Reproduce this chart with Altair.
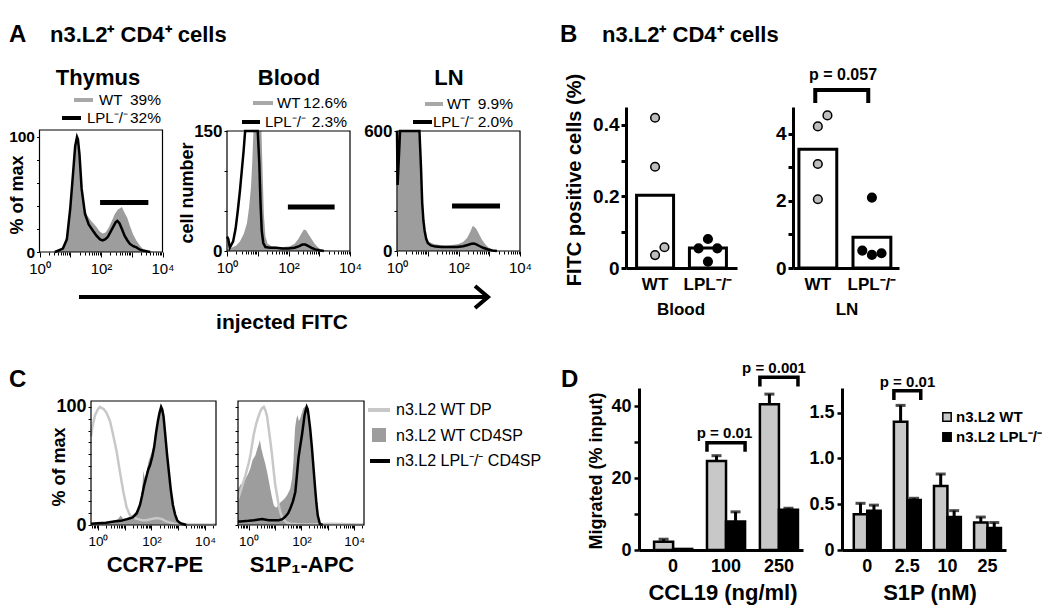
import altair as alt
import numpy as np
import pandas as pd

FONT = "Liberation Sans"
W, H = 1034, 598
FILL = "#9d9d9d"
LIGHT = "#c8c8c8"
LEGGRAY = "#a8a8a8"
WTBAR = "#c8c8c8"
WTPT = "#bdbdbd"

# ---------------- Panel A: FITC histograms (x = log10 intensity, decades) ----------------
thy_wt_d = [0.55, 0.7, 0.8, 0.9, 0.98, 1.05, 1.12, 1.18, 1.22, 1.27, 1.32, 1.38, 1.45, 1.55, 1.65, 1.75, 1.85, 1.95, 2.05, 2.15, 2.25, 2.35, 2.45, 2.55, 2.62, 2.68, 2.75, 2.85, 2.95, 3.05, 3.15, 3.25, 3.35, 3.5, 3.7]
thy_wt_v = [0, 2, 6, 16, 35, 62, 86, 97, 100, 93, 72, 52, 40, 32, 28, 25, 22, 18, 16, 17, 21, 27, 33, 37, 38, 39, 35, 30, 22, 15, 10, 6, 3, 1, 0]
thy_ko_d = [0.5, 0.76, 0.89, 1.0, 1.09, 1.16, 1.22, 1.25, 1.3, 1.37, 1.48, 1.6, 1.75, 1.86, 1.97, 2.05, 2.13, 2.22, 2.3, 2.4, 2.48, 2.53, 2.6, 2.68, 2.77, 2.86, 2.94, 3.05, 3.15, 3.27, 3.4, 3.6]
thy_ko_v = [0, 3, 11, 38, 68, 92, 100, 98, 85, 55, 33, 24, 18, 14, 11, 10, 11, 13, 17, 22, 26, 27, 25, 20, 14, 10, 7, 5, 4, 2, 1, 0]

bld_wt_d = [0.0, 0.15, 0.3, 0.42, 0.55, 0.65, 0.72, 0.78, 0.82, 0.86, 1.12, 1.16, 1.2, 1.25, 1.32, 1.45, 1.65, 1.85, 2.05, 2.2, 2.32, 2.42, 2.5, 2.57, 2.65, 2.75, 2.85, 2.95, 3.05, 3.2, 3.4]
bld_wt_v = [2, 4, 7, 12, 22, 35, 55, 80, 110, 150, 150, 95, 45, 18, 9, 6, 5, 5, 6, 9, 15, 22, 27, 26, 21, 15, 9, 5, 2, 1, 0]
bld_ko_d = [0.0, 0.04, 0.09, 0.2, 0.28, 0.35, 0.42, 0.48, 0.54, 0.59, 1.0, 1.05, 1.09, 1.13, 1.18, 1.25, 1.4, 1.6, 1.8, 2.0, 2.2, 2.35, 2.45, 2.55, 2.65, 2.75, 2.87, 3.0, 3.15]
bld_ko_v = [18, 15, 4, 12, 28, 50, 75, 100, 125, 150, 150, 110, 60, 25, 10, 5, 4, 4, 3, 3, 4, 6, 8, 8, 6, 4, 2, 1, 0]

ln_wt_d = [0.0, 0.04, 0.7, 0.76, 0.82, 0.88, 0.95, 1.05, 1.2, 1.4, 1.6, 1.8, 2.0, 2.15, 2.28, 2.38, 2.46, 2.52, 2.58, 2.65, 2.75, 2.85, 2.95, 3.05, 3.15, 3.3]
ln_wt_v = [0, 600, 600, 420, 230, 120, 70, 45, 35, 30, 28, 30, 35, 45, 65, 95, 125, 120, 110, 90, 60, 38, 20, 10, 4, 0]
ln_ko_d = [0.0, 0.02, 0.1, 0.73, 0.78, 0.82, 0.86, 0.9, 0.95, 1.0, 1.1, 1.25, 1.45, 1.7, 1.95, 2.15, 2.3, 2.42, 2.5, 2.58, 2.68, 2.8, 2.95, 3.1, 3.25]
ln_ko_v = [600, 330, 600, 600, 420, 240, 150, 100, 60, 40, 28, 22, 20, 20, 20, 24, 30, 36, 37, 33, 25, 16, 9, 3, 0]

# positive gates: (low decade, high decade, drawn level)
thy_gate = (1.97, 3.54, 43)
bld_gate = (1.98, 3.5, 55)
ln_gate = (1.79, 3.35, 225)

# ---------------- Panel B: % FITC+ cells ----------------
b_cats = ["WT", "LPL⁻/⁻"]
b_slots = ["L", "C", "R"]
blood_bar = [0.203, 0.056]
blood_pt_cat = ["WT", "WT", "WT", "WT", "LPL⁻/⁻", "LPL⁻/⁻", "LPL⁻/⁻", "LPL⁻/⁻"]
blood_pt_slot = ["C", "C", "C", "R", "C", "L", "R", "C"]
blood_pt_val = [0.42, 0.283, 0.036, 0.058, 0.081, 0.055, 0.055, 0.018]
ln_bar = [3.54, 0.92]
ln_pt_cat = ["WT", "WT", "WT", "WT", "LPL⁻/⁻", "LPL⁻/⁻", "LPL⁻/⁻", "LPL⁻/⁻"]
ln_pt_slot = ["R", "C", "C", "C", "C", "L", "C", "R"]
ln_pt_val = [4.55, 4.22, 3.1, 2.05, 2.1, 0.52, 0.39, 0.44]
ln_bracket = (4.92, 5.31)

# ---------------- Panel C: CCR7 / S1P1 histograms ----------------
ccr_dp_d = [-0.26, -0.2, -0.11, 0.0, 0.07, 0.15, 0.22, 0.32, 0.45, 0.57, 0.7, 0.82, 0.95, 1.07, 1.2, 1.35, 1.5, 1.65, 1.8, 2.0, 2.2, 2.4, 2.55, 2.7, 2.85, 3.0, 3.5, 4.0, 4.41]
ccr_dp_v = [75, 84, 93, 98, 100, 99, 98, 95, 88, 76, 62, 45, 28, 15, 8, 6, 5, 4, 4, 5, 6, 5, 3, 2, 1, 0.5, 0.5, 0.5, 0.5]
ccr_ko_d = [-0.26, 0.0, 0.3, 0.6, 0.85, 1.1, 1.3, 1.45, 1.57, 1.65, 1.72, 1.8, 1.88, 1.95, 2.03, 2.1, 2.17, 2.24, 2.3, 2.36, 2.4, 2.45, 2.52, 2.58, 2.65, 2.72, 2.8, 2.88, 2.96, 3.05, 3.15, 3.3]
ccr_ko_v = [1, 1.5, 2, 3, 3.5, 5, 6.5, 10, 17, 25, 33, 40, 47, 51, 58, 66, 78, 88, 95, 100, 98, 92, 75, 60, 45, 30, 17, 9, 4, 2, 1, 0]
ccr_sp_d = [-0.26, 0.2, 0.5, 0.75, 0.85, 0.95, 1.05, 1.2, 1.35, 1.5, 1.58, 1.65, 1.7, 1.74, 1.8, 1.88, 1.95, 2.02, 2.1, 2.18, 2.25, 2.3, 2.35, 2.4, 2.46, 2.52, 2.58, 2.65, 2.72, 2.8, 2.9, 3.0, 3.1]
ccr_sp_v = [0, 1, 3, 5, 8, 5, 6, 7, 9, 14, 20, 30, 46, 40, 43, 53, 58, 62, 70, 82, 92, 96, 100, 97, 88, 72, 56, 40, 26, 14, 6, 2, 0]

s1p_dp_d = [-0.4, -0.31, -0.2, -0.12, 0.0, 0.07, 0.19, 0.28, 0.36, 0.44, 0.51, 0.58, 0.64, 0.7, 0.76, 0.83, 0.89, 0.95, 1.01, 1.08, 1.14, 1.2, 1.26, 1.35, 1.45, 1.6, 2.0, 2.5, 3.0, 4.37]
s1p_dp_v = [22, 28, 36, 42, 52, 59, 76, 85, 91, 96, 99, 100, 97, 92, 82, 70, 59, 46, 34, 25, 17, 11, 7, 4, 2, 1, 0.5, 0.5, 1, 0.5]
s1p_sp_d = [-0.4, -0.31, -0.2, -0.12, 0.0, 0.07, 0.15, 0.26, 0.32, 0.38, 0.43, 0.48, 0.57, 0.63, 0.7, 0.76, 0.82, 0.88, 0.95, 1.01, 1.07, 1.14, 1.2, 1.3, 1.39, 1.48, 1.58, 1.65, 1.7, 1.73, 1.76, 1.81, 1.86, 1.9, 1.95, 2.02, 2.08, 2.13, 2.17, 2.22, 2.27, 2.33, 2.4, 2.46, 2.52, 2.57, 2.62, 2.7, 2.8]
s1p_sp_v = [30, 34, 36, 39, 44, 48, 55, 59, 64, 68, 72, 65, 57, 52, 45, 38, 31, 24, 17, 15, 15, 17, 19, 21, 23, 26, 31, 40, 54, 70, 82, 90, 93, 88, 90, 95, 99, 100, 100, 96, 88, 75, 59, 42, 25, 14, 6, 1, 0]
s1p_ko_d = [-0.4, -0.31, 0.0, 0.2, 0.51, 0.76, 1.0, 1.14, 1.28, 1.39, 1.5, 1.58, 1.68, 1.77, 1.83, 1.89, 1.95, 2.02, 2.08, 2.12, 2.16, 2.2, 2.24, 2.27, 2.33, 2.4, 2.46, 2.52, 2.57, 2.62, 2.7, 2.8]
s1p_ko_v = [3, 3, 3.5, 4, 5, 4, 4, 4, 5, 7, 10, 14, 20, 28, 42, 57, 66, 76, 86, 93, 97, 100, 98, 93, 82, 65, 48, 31, 18, 8, 1, 0]

# ---------------- Panel D: migration ----------------
ccl_groups = ["0", "100", "250"]
ccl_wt = [2.3, 24.7, 40.5]
ccl_wt_sem = [0.7, 1.5, 2.8]
ccl_ko = [0.3, 7.9, 11.2]
ccl_ko_sem = [0.0, 2.7, 0.4]
ccl_brackets = [("100", 27.3, 29.8), ("250", 45.4, 48.0)]

s1p_groups = ["0", "2.5", "10", "25"]
s1p_wt = [0.39, 1.40, 0.70, 0.30]
s1p_wt_sem = [0.12, 0.18, 0.13, 0.06]
s1p_ko = [0.43, 0.545, 0.36, 0.24]
s1p_ko_sem = [0.06, 0.02, 0.07, 0.06]
s1p_brackets = [("2.5", 1.639, 1.741)]

# tick labels
DEC = [0, 1, 2, 3, 4]
DEC_LAB = ["10⁰", "", "10²", "", "10⁴"]


# ---------------- helpers ----------------
def lin(dom, rng):
    return alt.Scale(domain=dom, range=rng, nice=False, zero=False)


PX = lin([0, 1050], [-8, 1042])   # annotation frame (reference image pixels)
PY = lin([0, 614], [-8, 606])

AX = dict(grid=False, title=None, labelFont=FONT, labelColor="black", tickColor="black",
          domainColor="black", labelFlush=False, labelOverlap=False)


def lab_expr(vals, labs):
    s = "''"
    for v, l in reversed(list(zip(vals, labs))):
        s = f"(abs(datum.value - ({v})) < 1e-6 ? '{l}' : {s})"
    return s


def minor_ticks(lo, hi):
    out = []
    for k in range(-1, 5):
        for m in range(2, 10):
            t = k + float(np.log10(m))
            if lo <= t <= hi:
                out.append(round(t, 4))
    return out


def hist(xr, xdom, yr, ydom, ytv, ytl, area, lines, gate, xlab, ylab):
    xs, ys = lin(xdom, xr), lin(ydom, yr)
    xa = alt.Axis(orient="bottom", offset=yr[0] - H, values=DEC, labelExpr=lab_expr(DEC, DEC_LAB),
                  tickSize=5, tickWidth=1, domain=False, labelFontSize=xlab, labelFontWeight="normal",
                  labelPadding=4, **AX)
    ya = alt.Axis(orient="left", offset=-xr[0], values=ytv, labelExpr=lab_expr(ytv, ytl),
                  tickSize=3, tickWidth=1, domain=False, labelFontSize=ylab, labelFontWeight="bold",
                  labelPadding=2, **AX)
    out = [alt.Chart(pd.DataFrame({"d": area[0], "v": area[1]})).mark_area(color=FILL, interpolate="linear").encode(
        x=alt.X("d:Q", scale=xs, axis=xa), y=alt.Y("v:Q", scale=ys, axis=ya))]
    for d, v, col, sw in lines:
        out.append(alt.Chart(pd.DataFrame({"d": d, "v": v})).mark_line(color=col, strokeWidth=sw).encode(
            x=alt.X("d:Q", scale=xs, axis=None), y=alt.Y("v:Q", scale=ys, axis=None)))
    xm = alt.Axis(orient="bottom", offset=yr[0] - H, values=minor_ticks(*xdom), labels=False,
                  tickSize=3, tickWidth=1, domain=False, **AX)
    fr = pd.DataFrame({"x0": [xdom[0]], "x1": [xdom[1]], "y0": [ydom[0]], "y1": [ydom[1]]})
    out.append(alt.Chart(fr).mark_rect(fillOpacity=0, stroke="black", strokeWidth=1.2).encode(
        x=alt.X("x0:Q", scale=xs, axis=xm), x2="x1:Q", y=alt.Y("y0:Q", scale=ys, axis=None), y2="y1:Q"))
    if gate:
        g = pd.DataFrame({"lo": [gate[0]], "hi": [gate[1]], "lev": [gate[2]]})
        out.append(alt.Chart(g).mark_rule(color="black", strokeWidth=5).encode(
            x=alt.X("lo:Q", scale=xs, axis=None), x2="hi:Q", y=alt.Y("lev:Q", scale=ys, axis=None)))
    return out


def b_panel(xr, pi, po, al, bars, pcat, pslot, pval, ydom, yr, ytv, ytl, bracket=None):
    xs = alt.Scale(domain=b_cats, range=xr, paddingInner=pi, paddingOuter=po, align=al)
    ys = lin(ydom, yr)
    xa = alt.Axis(orient="bottom", offset=yr[0] - H, ticks=False, domainWidth=3, labelFontSize=17,
                  labelFontWeight="bold", labelPadding=8, labelAngle=0, **AX)
    ya = alt.Axis(orient="left", offset=-xr[0], values=ytv, labelExpr=lab_expr(ytv, ytl), tickSize=5,
                  tickWidth=3, domainWidth=3, labelFontSize=19, labelFontWeight="bold", labelPadding=2, **AX)
    out = [alt.Chart(pd.DataFrame({"c": b_cats, "m": bars})).mark_bar(fill="white", stroke="black", strokeWidth=3).encode(
        x=alt.X("c:N", scale=xs, axis=xa), y=alt.Y("m:Q", scale=ys, axis=ya))]
    pdf = pd.DataFrame({"c": pcat, "s": pslot, "v": pval})
    out.append(alt.Chart(pdf).mark_circle(size=75, stroke="black", strokeWidth=1.5, opacity=1).encode(
        x=alt.X("c:N", scale=xs, axis=None),
        xOffset=alt.XOffset("s:N", scale=alt.Scale(domain=b_slots, paddingInner=0, paddingOuter=0.97)),
        y=alt.Y("v:Q", scale=ys, axis=None),
        fill=alt.Fill("c:N", scale=alt.Scale(domain=b_cats, range=[WTPT, "black"]), legend=None)))
    if bracket:
        bd = pd.DataFrame({"c": [b_cats[0], b_cats[0], b_cats[1], b_cats[1]],
                           "v": [bracket[0], bracket[1], bracket[1], bracket[0]], "k": [0, 1, 2, 3]})
        out.append(alt.Chart(bd).mark_line(color="black", strokeWidth=4, strokeJoin="miter").encode(
            x=alt.X("c:N", scale=xs, axis=None), y=alt.Y("v:Q", scale=ys, axis=None), order="k:Q"))
    return out


def d_panel(xr, pi, po, al, groups, wt, wts, ko, kos, ydom, yr, ytv, ytl, brackets):
    xs = alt.Scale(domain=groups, range=xr, paddingInner=pi, paddingOuter=po, align=al)
    ys = lin(ydom, yr)
    os_ = alt.Scale(domain=["WT", "KO"], paddingInner=0, paddingOuter=0)
    xa = alt.Axis(orient="bottom", offset=yr[0] - H, ticks=False, domainWidth=3, labelFontSize=18,
                  labelFontWeight="bold", labelPadding=7, labelAngle=0, **AX)
    ya = alt.Axis(orient="left", offset=-xr[0], values=ytv, labelExpr=lab_expr(ytv, ytl), tickSize=5,
                  tickWidth=2.5, domainWidth=3, labelFontSize=18, labelFontWeight="bold", labelPadding=3, **AX)
    df = pd.DataFrame({"grp": groups + groups, "g": ["WT"] * len(groups) + ["KO"] * len(groups),
                       "m": wt + ko, "sem": wts + kos})
    df["up"] = df["m"] + df["sem"]
    out = [alt.Chart(df).mark_bar(stroke="black", strokeWidth=2.5).encode(
        x=alt.X("grp:N", scale=xs, axis=xa), xOffset=alt.XOffset("g:N", scale=os_),
        y=alt.Y("m:Q", scale=ys, axis=ya, stack=None),
        fill=alt.Fill("g:N", scale=alt.Scale(domain=["WT", "KO"], range=[WTBAR, "black"]), legend=None))]
    ed = df[df["sem"] > 0]
    out.append(alt.Chart(ed).mark_rule(color="black", strokeWidth=3).encode(
        x=alt.X("grp:N", scale=xs, axis=None), xOffset=alt.XOffset("g:N", scale=os_),
        y=alt.Y("m:Q", scale=ys, axis=None), y2="up:Q"))
    out.append(alt.Chart(ed).mark_tick(color="black", orient="horizontal", size=10, thickness=3).encode(
        x=alt.X("grp:N", scale=xs, axis=None), xOffset=alt.XOffset("g:N", scale=os_),
        y=alt.Y("up:Q", scale=ys, axis=None)))
    rows = []
    for grp, lo, hi in brackets:
        rows += [(grp, "WT", lo, 0), (grp, "WT", hi, 1), (grp, "KO", hi, 2), (grp, "KO", lo, 3)]
    bd = pd.DataFrame(rows, columns=["grp", "g", "v", "k"])
    out.append(alt.Chart(bd).mark_line(color="black", strokeWidth=3.5, strokeJoin="miter").encode(
        x=alt.X("grp:N", scale=xs, axis=None), xOffset=alt.XOffset("g:N", scale=os_),
        y=alt.Y("v:Q", scale=ys, axis=None), order="k:Q", detail="grp:N"))
    return out


def texts(rows, size, weight="bold", align="center", angle=0):
    d = pd.DataFrame(rows, columns=["t", "x", "y"])
    kw = dict(font=FONT, fontSize=size, fontWeight=weight, align=align, baseline="middle", color="black")
    if angle:
        kw["angle"] = angle
    return alt.Chart(d).mark_text(**kw).encode(
        x=alt.X("x:Q", scale=PX, axis=None), y=alt.Y("y:Q", scale=PY, axis=None), text="t:N")


def hlines(rows, color, width):
    d = pd.DataFrame(rows, columns=["x0", "x1", "y"])
    return alt.Chart(d).mark_rule(color=color, strokeWidth=width).encode(
        x=alt.X("x0:Q", scale=PX, axis=None), x2="x1:Q", y=alt.Y("y:Q", scale=PY, axis=None))


layers = []
# Panel A
layers += hist([31.5, 154.5], [0, 4], [244, 122], [0, 106], [0, 20, 40, 60, 80, 100], ["0", "", "", "", "", "100"],
               (thy_wt_d, thy_wt_v), [(thy_ko_d, thy_ko_v, "black", 2.5)], thy_gate, 15, 15.5)
layers += hist([219, 342], [0, 4], [243, 123], [0, 150], [0, 50, 100, 150], ["0", "", "", "150"],
               (bld_wt_d, bld_wt_v), [(bld_ko_d, bld_ko_v, "black", 2.5)], bld_gate, 15, 17)
layers += hist([389, 512], [0, 4], [243, 123], [0, 600], [0, 200, 400, 600], ["0", "", "", "600"],
               (ln_wt_d, ln_wt_v), [(ln_ko_d, ln_ko_v, "black", 2.5)], ln_gate, 15, 17)
# Panel C
cy = list(range(0, 101, 10))
layers += hist([83, 208], [-0.26, 4.41], [517, 393], [0, 105], cy, ["0"] + [""] * 9 + ["100"],
               (ccr_sp_d, ccr_sp_v), [(ccr_dp_d, ccr_dp_v, LIGHT, 2.5), (ccr_ko_d, ccr_ko_v, "black", 2.5)], None, 13.5, 18)
layers += hist([230, 356], [-0.4, 4.37], [517, 393], [0, 105], cy, [""] * 11,
               (s1p_sp_d, s1p_sp_v), [(s1p_dp_d, s1p_dp_v, LIGHT, 2.5), (s1p_ko_d, s1p_ko_v, "black", 2.5)], None, 13.5, 18)
# Panel B
layers += b_panel([618, 729], 0.3, 0.2, 0.5, blood_bar, blood_pt_cat, blood_pt_slot, blood_pt_val,
                  [0, 0.45], [260, 99], [0, 0.1, 0.2, 0.3, 0.4], ["0", "", "0.2", "", "0.4"])
layers += b_panel([785, 891], 0.3, 0.13, 0.42, ln_bar, ln_pt_cat, ln_pt_slot, ln_pt_val,
                  [0, 4.8], [260, 99], [0, 1, 2, 3, 4], ["0", "", "2", "", "4"], ln_bracket)
# Panel D
layers += d_panel([631, 795], 0.28, 0.19, 0.75, ccl_groups, ccl_wt, ccl_wt_sem, ccl_ko, ccl_ko_sem,
                  [0, 45], [542, 380], [0, 10, 20, 30, 40], ["0", "", "20", "", "40"], ccl_brackets)
layers += d_panel([834, 998], 0.33, 0.21, 0.7, s1p_groups, s1p_wt, s1p_wt_sem, s1p_ko, s1p_ko_sem,
                  [0, 1.77], [542, 380], [0, 0.5, 1.0, 1.5], ["0", "0.5", "1.0", "1.5"], s1p_brackets)

# ---------------- annotations (reference-pixel frame) ----------------
HEAD = "n3.L2⁺ CD4⁺ cells"
KO = "LPL⁻/⁻"
layers.append(texts([("A", 9, 35), ("B", 560, 35), ("C", 9, 380), ("D", 561, 380)], 24, align="left"))
layers.append(texts([(HEAD, 50, 35), (HEAD, 602, 35)], 22, align="left"))
layers.append(texts([("Thymus", 98, 78), ("Blood", 289, 78), ("LN", 449, 78)], 22))
layers.append(texts([("injected FITC", 282, 323)], 21))
layers.append(texts([("CCR7-PE", 155, 565), ("S1P₁-APC", 302, 565), ("CCL19 (ng/ml)", 723, 593), ("S1P (nM)", 930, 593)], 22))
layers.append(texts([("Blood", 681, 310), ("LN", 847, 310)], 17))
layers.append(texts([("% of max", 18, 195), ("cell number", 188, 193), ("% of max", 60, 467),
                     ("Migrated (% input)", 597, 471)], 18, angle=270))
layers.append(texts([("FITC positive cells (%)", 575, 180)], 20, angle=270))
layers.append(texts([("p = 0.057", 843, 75)], 16))
layers.append(texts([("p = 0.01", 724.5, 433), ("p = 0.001", 774, 368), ("p = 0.01", 907.5, 382)], 15))
layers.append(texts([("n3.L2 WT", 956, 417), ("n3.L2 " + KO, 956, 437)], 15, align="left"))
layers.append(texts([("WT", 99, 100), (KO, 87, 118), ("WT", 277, 103), (KO, 265, 122), ("WT", 447, 104), (KO, 433, 122)],
                    15, weight="normal", align="left"))
layers.append(texts([("39%", 161, 100), ("32%", 161, 118), ("12.6%", 347, 103), ("2.3%", 347, 122),
                     ("9.9%", 513, 104), ("2.0%", 513, 122)], 15.5, weight="normal", align="right"))
layers.append(texts([("n3.L2 WT DP", 396, 410), ("n3.L2 WT CD4SP", 396, 436), ("n3.L2 " + KO + " CD4SP", 396, 461)],
                    16, weight="normal", align="left"))
layers.append(hlines([(74, 93, 100), (253, 273, 103), (425, 443, 104)], LEGGRAY, 4))
layers.append(hlines([(62, 81, 118), (242, 260, 122), (413, 432, 122)], "black", 4))
layers.append(hlines([(368, 390, 410)], LIGHT, 4))
layers.append(hlines([(370, 390, 461)], "black", 4))
layers.append(hlines([(79, 486, 297)], "black", 4))
arrow = pd.DataFrame({"x": [475, 488, 475], "y": [286, 297, 308], "k": [0, 1, 2]})
layers.append(alt.Chart(arrow).mark_line(color="black", strokeWidth=4, strokeJoin="miter").encode(
    x=alt.X("x:Q", scale=PX, axis=None), y=alt.Y("y:Q", scale=PY, axis=None), order="k:Q"))
sq = pd.DataFrame({"x": [379], "y": [435]})
layers.append(alt.Chart(sq).mark_square(size=196, color=FILL, opacity=1).encode(
    x=alt.X("x:Q", scale=PX, axis=None), y=alt.Y("y:Q", scale=PY, axis=None)))
sq2 = pd.DataFrame({"x": [947, 947], "y": [417, 437], "g": ["WT", "KO"]})
layers.append(alt.Chart(sq2).mark_square(size=70, stroke="black", strokeWidth=1.5, opacity=1).encode(
    x=alt.X("x:Q", scale=PX, axis=None), y=alt.Y("y:Q", scale=PY, axis=None),
    fill=alt.Fill("g:N", scale=alt.Scale(domain=["WT", "KO"], range=[WTBAR, "black"]), legend=None)))

chart = alt.layer(*layers).resolve_scale(
    x="independent", y="independent", xOffset="independent", fill="independent"
).resolve_axis(x="independent", y="independent").properties(
    width=W, height=H, autosize=alt.AutoSizeParams(type="none"), padding=0, background="white"
).configure_view(strokeWidth=0)

chart.save("out.html", embed_options={"renderer": "svg", "actions": False})
